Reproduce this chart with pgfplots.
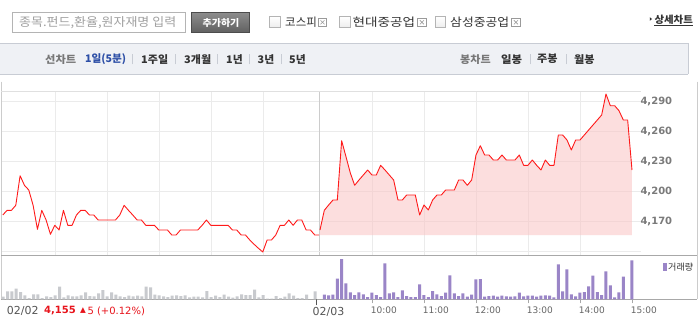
\documentclass[border=0pt]{standalone}
\usepackage{fontspec}
\usepackage{graphicx}
\usepackage{pgfplots}
\usepackage{pgfplotstable}
\pgfplotsset{compat=1.18}
\setmainfont{DejaVu Sans}
\newfontfamily\kr{Noto Sans CJK KR}
\newfontfamily\dvs{DejaVu Sans}
\definecolor{gridc}{HTML}{EBEBEB}
\definecolor{sepc}{HTML}{CCCCCC}
\definecolor{framec}{HTML}{E0E0E0}
\definecolor{panelc}{HTML}{A8A8A8}
\definecolor{barbg}{HTML}{EFF1F5}
\definecolor{barln}{HTML}{C8CCD4}
\definecolor{linered}{HTML}{FF1A1A}
\definecolor{pinkc}{HTML}{FBC4C4}
\definecolor{volgray}{HTML}{C8CACE}
\definecolor{volpur}{HTML}{9A85C7}
\definecolor{lblgray}{HTML}{7A7A7A}
\definecolor{timegray}{HTML}{666666}
\definecolor{dategray}{HTML}{555555}
\definecolor{txtdark}{HTML}{333333}
\definecolor{navgray}{HTML}{777777}
\definecolor{navblue}{HTML}{2C4EA6}
\definecolor{upred}{HTML}{E8141C}
\definecolor{phgray}{HTML}{A0A0A0}
\definecolor{boxln}{HTML}{B4B4B4}
\definecolor{xgray}{HTML}{9A9A9A}
\definecolor{cbfill}{HTML}{EDEDED}
\newcommand\fitw[2]{\resizebox{#1}{\height}{#2}}
\newcommand\cbox[1]{\draw[draw=boxln, line width=0.7pt, top color=white, bottom color=cbfill] (#1,294.7) rectangle ++(10.7,10.7);}
\newcommand\xbox[1]{\draw[draw=xgray, line width=0.6pt, fill=white] (#1,295.5) rectangle ++(8.4,8.4);
  \draw[xgray, line width=0.6pt] (#1+2.2,297.7) -- ++(4,4) (#1+2.2,301.7) -- ++(4,-4);}
\newcommand\vsep[1]{\draw[draw=barln, line width=0.8pt] (#1,257.7) -- (#1,267.7);}

\pgfplotstableread{
x y
-73.2 4176
-72.2 4180.7
-71.2 4180.7
-70.2 4185.7
-69.2 4215.3
-68.2 4205.7
-67.2 4201
-66.2 4185.7
-65.2 4161.7
-64.2 4180.7
-63.2 4171
-62.2 4156.7
-61.2 4165.7
-60.2 4161
-59.2 4180.7
-58.2 4165.7
-57.2 4165.7
-56.2 4176
-55.2 4180.7
-54.2 4180.7
-53.2 4176
-52.2 4176
-51.2 4171
-50.2 4171
-49.2 4171
-48.2 4171
-47.2 4171
-46.2 4176
-45.2 4185.7
-44.2 4180.7
-43.2 4176
-42.2 4171
-41.2 4171
-40.2 4165.7
-39.2 4165.7
-38.2 4165.7
-37.2 4161
-36.2 4161
-35.2 4161
-34.2 4156
-33.2 4156
-32.2 4161
-31.2 4161
-30.2 4161
-29.2 4161
-28.2 4161
-27.2 4165.7
-26.2 4171
-25.2 4165.7
-24.2 4165.7
-23.2 4165.7
-22.2 4165.7
-21.2 4165.7
-20.2 4161
-19.2 4161
-18.2 4156
-17.2 4156
-16.2 4151
-15.2 4146.7
-14.2 4142.7
-13.2 4139
-12.2 4151
-11.2 4151
-10.2 4156
-9.2 4165.7
-8.2 4165.7
-7.2 4171
-6.2 4165.7
-5.2 4171
-4.2 4171
-3.2 4161
-2.2 4161
-1.2 4156
-0.2 4156
}\dayone

\pgfplotstableread{
x y
0 4161
1 4180.7
2 4186
3 4191
4 4191
5 4250.3
6 4234.3
7 4218
8 4205.7
9 4211
10 4216
11 4221
12 4216
13 4216
14 4225.7
15 4221
16 4216
17 4211
18 4191
19 4191
20 4196
21 4196
22 4196
23 4176
24 4186
25 4181
26 4191
27 4196
28 4196
29 4201
30 4201
31 4201
32 4211
33 4211
34 4205.7
35 4211
36 4236
37 4245.3
38 4236
39 4236
40 4231
41 4231
42 4236
43 4231
44 4231
45 4231
46 4236
47 4225.7
48 4225.7
49 4231
50 4225.7
51 4221
52 4231
53 4225.7
54 4225.7
55 4256
56 4256
57 4251
58 4241
59 4251
60 4251
61 4256
62 4261
63 4266
64 4271
65 4276
66 4297
67 4285.3
68 4285.3
69 4280.3
70 4271
71 4271
72 4221
}\daytwo

\pgfplotstableread{
x v
-73.1 2.7
-72.1 8
-71.1 8
-70.1 10.7
-69.1 7.3
-68.1 4
-67.1 1.3
-66.1 5
-65.1 5
-64.1 1.3
-63.1 3
-62.1 2.3
-61.1 4
-60.1 12.7
-59.1 2
-58.1 4
-57.1 3
-56.1 3
-55.1 4
-54.1 7
-53.1 3.3
-52.1 3
-51.1 6
-50.1 9.3
-49.1 3
-48.1 7
-47.1 4.7
-46.1 3
-45.1 2.3
-44.1 3.7
-43.1 3
-42.1 3.7
-41.1 3
-40.1 12.7
-39.1 12
-38.1 4.7
-37.1 4
-36.1 3
-35.1 2.3
-34.1 3.7
-33.1 4
-32.1 3.3
-31.1 4
-30.1 2
-29.1 2.7
-28.1 2.7
-27.1 2
-26.1 8.3
-25.1 2.3
-24.1 3.7
-23.1 2.3
-22.1 4.7
-21.1 2.7
-20.1 1.7
-19.1 3
-18.1 5
-17.1 4.3
-16.1 4.3
-15.1 9.7
-14.1 2
-13.1 4.3
-12.1 0.7
-11.1 0.7
-10.1 3.3
-9.1 1.3
-8.1 2.7
-7.1 6
-6.1 3.7
-5.1 1.3
-4.1 1.3
-3.1 4.7
-1.1 8
}\volone

\pgfplotstableread{
x v
1 4.7
2 4
3 4.7
4 20.7
5 40.3
6 16
7 7
8 4.3
9 7
10 5
11 2.3
12 6.7
13 4.3
14 2.3
15 36
16 6
17 7
18 2.3
19 9
20 3.3
21 2.3
22 2.3
23 15
24 4.3
25 2.3
26 8.3
27 5
28 3.3
29 6.7
30 24
31 6
32 3.3
33 6
34 2.7
35 4.7
36 20
37 20.3
38 2.7
39 3.3
40 3.7
41 2.7
42 3.7
43 3
44 2.7
45 3
46 6.7
47 3
48 3.7
49 3.7
50 2.7
51 3.7
52 4
53 3.7
54 2
55 35
56 8
57 30
58 5
59 3
60 6.7
61 7.3
62 13
63 23.7
64 7.3
65 4.3
66 28
67 14
68 2
69 7
70 22.7
72 39
}\voltwo

\begin{document}
\begin{tikzpicture}[x=1pt,y=1pt]
\fill[white] (0,0) rectangle (700,322);

% ---------- top toolbar ----------
\draw[draw=boxln, line width=0.8pt, fill=white] (12.3,289.7) rectangle (185.3,309.3);
\node[anchor=west, inner sep=0, text=phgray, font=\kr\fontsize{12}{14}\selectfont] at (19,299.3) {\fitw{157pt}{종목.펀드,환율,원자재명 입력}};
\draw[draw=black!70, line width=0.7pt, top color=black!45, bottom color=black!62] (191,289.7) rectangle (249.7,309.3);
\node[inner sep=0, text=white, font=\kr\bfseries\fontsize{9.5}{11}\selectfont] at (221,299.5) {\fitw{36.7pt}{추가하기}};

\cbox{269.5}
\node[anchor=west, inner sep=0, text=txtdark, font=\kr\fontsize{11.5}{13}\selectfont] at (285,300) {\fitw{31.7pt}{코스피}};
\xbox{318.3}
\cbox{339.3}
\node[anchor=west, inner sep=0, text=txtdark, font=\kr\fontsize{11.5}{13}\selectfont] at (352.5,300) {\fitw{62.5pt}{현대중공업}};
\xbox{417.7}
\cbox{435}
\node[anchor=west, inner sep=0, text=txtdark, font=\kr\fontsize{11.5}{13}\selectfont] at (450,300) {\fitw{59pt}{삼성중공업}};
\xbox{511.7}

\fill[txtdark] (649.8,304.8) -- (652,303) -- (649.8,301.2) -- cycle;
\node[anchor=west, inner sep=0, text=txtdark, font=\kr\bfseries\fontsize{10}{12}\selectfont] at (654.3,302.5) {\fitw{38.4pt}{상세차트}};
\draw[txtdark, line width=0.7pt] (654.3,296.3) -- (692.7,296.3);

% ---------- navigation bar ----------
\fill[barbg] (0,248) rectangle (688.3,278.7);
\draw[barln, line width=0.9pt] (0,278.7) -- (688.3,278.7);
\draw[barln, line width=0.9pt] (0,248) -- (688.3,248);
\draw[barln, line width=0.9pt] (688.3,278.7) -- (688.3,248);

\node[anchor=west, inner sep=0, text=navgray, font=\kr\bfseries\fontsize{10.5}{12}\selectfont] at (45,262.8) {\fitw{31pt}{선차트}};
\node[anchor=west, inner sep=0, text=navblue, font=\kr\bfseries\fontsize{10.5}{12}\selectfont] at (85,262.8) {\fitw{41pt}{1일(5분)}};
\vsep{132.7}
\node[anchor=west, inner sep=0, text=txtdark, font=\kr\bfseries\fontsize{10.5}{12}\selectfont] at (141,262.8) {\fitw{27pt}{1주일}};
\vsep{175.7}
\node[anchor=west, inner sep=0, text=txtdark, font=\kr\bfseries\fontsize{10.5}{12}\selectfont] at (184,262.8) {\fitw{27pt}{3개월}};
\vsep{217.7}
\node[anchor=west, inner sep=0, text=txtdark, font=\kr\bfseries\fontsize{10.5}{12}\selectfont] at (226,262.8) {\fitw{16.5pt}{1년}};
\vsep{249.7}
\node[anchor=west, inner sep=0, text=txtdark, font=\kr\bfseries\fontsize{10.5}{12}\selectfont] at (257.5,262.8) {\fitw{16.5pt}{3년}};
\vsep{281.7}
\node[anchor=west, inner sep=0, text=txtdark, font=\kr\bfseries\fontsize{10.5}{12}\selectfont] at (289,262.8) {\fitw{16.5pt}{5년}};

\node[anchor=west, inner sep=0, text=navgray, font=\kr\bfseries\fontsize{10.5}{12}\selectfont] at (460,262.8) {\fitw{30.5pt}{봉차트}};
\node[anchor=west, inner sep=0, text=txtdark, font=\kr\bfseries\fontsize{10.5}{12}\selectfont] at (501,262.8) {\fitw{21pt}{일봉}};
\vsep{530}
\node[anchor=west, inner sep=0, text=txtdark, font=\kr\bfseries\fontsize{10.5}{12}\selectfont] at (537,262.8) {\fitw{20.5pt}{주봉}};
\vsep{566}
\node[anchor=west, inner sep=0, text=txtdark, font=\kr\bfseries\fontsize{10.5}{12}\selectfont] at (574,262.8) {\fitw{20.5pt}{월봉}};

% ---------- chart frame ----------
\draw[sepc, line width=0.9pt] (1,240.3) -- (1,22.7);
\draw[sepc, line width=0.9pt] (697,240.3) -- (697,22.7);
\draw[framec, line width=0.9pt] (1,230.3) -- (641,230.3);

% ---------- price panel ----------
\begin{axis}[
  at={(2pt,66.7pt)}, anchor=south west,
  scale only axis, width=639pt, height=163.6pt,
  xmin=-73.38, xmax=74.08, ymin=4135.7, ymax=4299.3,
  axis line style={draw=none},
  major tick length=0pt,
  xtick={-61,-49,-37,-25,-13,12,24,36,48,60},
  xticklabels={},
  ytick={4170,4200,4230,4260,4290},
  extra y ticks={4140}, extra y tick labels={},
  extra x ticks={0}, extra x tick labels={},
  extra x tick style={grid style={draw=sepc, line width=1pt}},
  grid=major,
  grid style={draw=gridc, line width=0.9pt},
  yticklabel pos=right,
  /pgf/number format/assume math mode=true,
  /pgf/number format/1000 sep={,},
  yticklabel style={font=\dvs\bfseries\fontsize{10}{12}\selectfont, text=lblgray, anchor=west, xshift=-4pt},
]
\addplot[fill=pinkc, fill opacity=0.55, draw=none] table[x=x,y=y] {\daytwo} -- (axis cs:72,4156) -- (axis cs:0,4156) -- cycle;
\addplot[linered, line width=0.9pt, line join=round, mark=none] table[x=x,y=y] {\dayone};
\addplot[linered, line width=0.9pt, line join=round, mark=none] table[x=x,y=y] {\daytwo};
\end{axis}

% separator lines of the volume panel
\draw[panelc, line width=1pt] (1,66.7) -- (697,66.7);
\draw[panelc, line width=1pt] (1,22.7) -- (697,22.7);

% ---------- volume panel ----------
\begin{axis}[
  at={(2pt,22.7pt)}, anchor=south west,
  scale only axis, width=639pt, height=44pt,
  xmin=-73.38, xmax=74.08, ymin=0, ymax=44,
  axis line style={draw=none},
  ytick=\empty,
  xtick pos=bottom,
  xtick={12,24,36,48,60,72},
  xticklabels={10:00,11:00,12:00,13:00,14:00,15:00},
  xtick align=outside, major tick length=4pt,
  tick style={draw=panelc, line width=0.9pt},
  xticklabel style={font=\dvs\fontsize{9}{11}\selectfont, text=timegray, anchor=west, xshift=-4.6pt, yshift=-6.7pt},
  extra x ticks={-0.85}, extra x tick labels={02/03},
  extra x tick style={major tick length=6pt, tick style={draw=dategray, line width=0.9pt},
     xticklabel style={font=\dvs\fontsize{11}{13}\selectfont, text=dategray, anchor=west, xshift=-2.5pt, yshift=0.5pt}},
]
\addplot[ybar, bar width=3pt, fill=volgray, draw=none] table[x=x,y=v] {\volone};
\addplot[ybar, bar width=3pt, fill=volpur, draw=none] table[x=x,y=v] {\voltwo};
\end{axis}

% ---------- bottom info ----------
\node[anchor=west, inner sep=0, text=dategray, font=\dvs\fontsize{11}{13}\selectfont] at (6.7,11) {02/02};
\node[anchor=west, inner sep=0, text=upred, font=\dvs\bfseries\fontsize{10}{12}\selectfont] at (44,11) {4,155};
\node[anchor=west, inner sep=0, text=upred, font=\dvs\fontsize{7.5}{9}\selectfont] at (80,11) {▲};
\node[anchor=west, inner sep=0, text=upred, font=\dvs\fontsize{10}{12}\selectfont] at (87.3,11) {5 (+0.12\%)};

% legend
\fill[volpur] (663.3,51.3) rectangle (666.7,59.3);
\node[anchor=west, inner sep=0, text=txtdark, font=\kr\fontsize{9}{10}\selectfont] at (668,55) {\fitw{25pt}{거래량}};

\pgfresetboundingbox
\useasboundingbox (0,0) rectangle (700,322);
\end{tikzpicture}
\end{document}
